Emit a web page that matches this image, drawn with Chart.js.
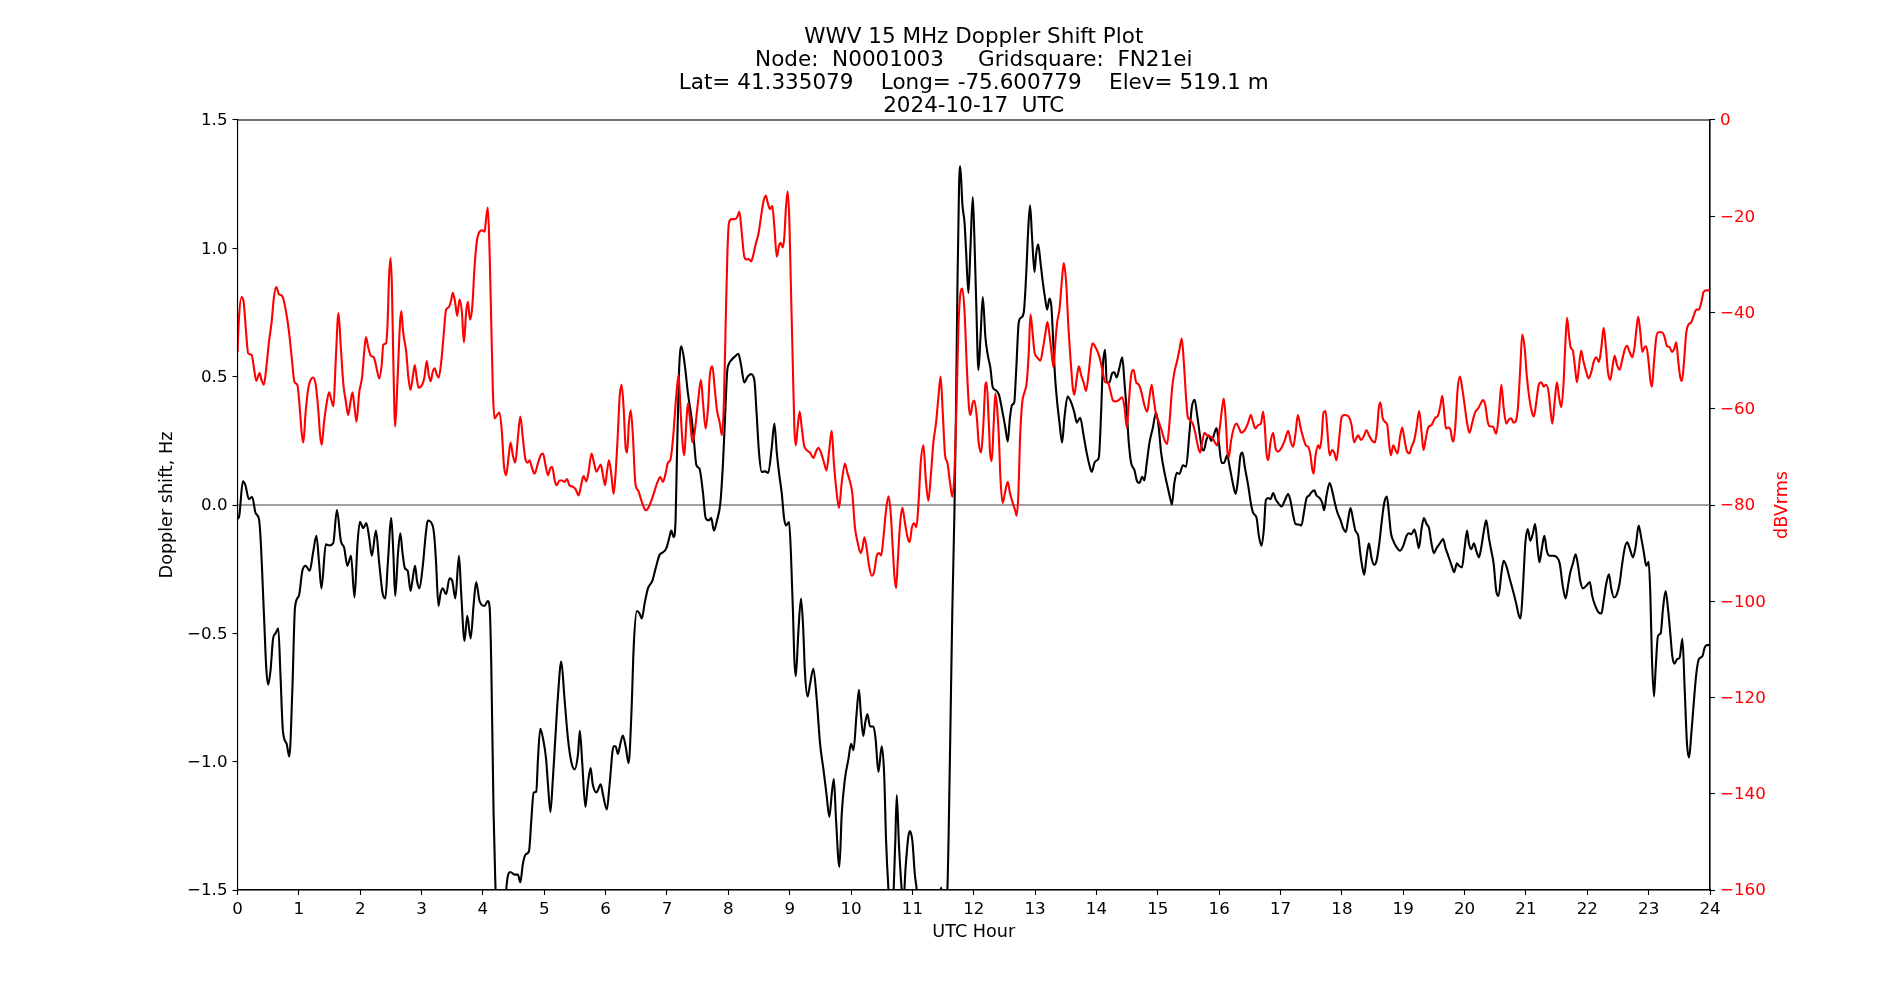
<!DOCTYPE html>
<html>
<head>
<meta charset="utf-8">
<script src="https://cdn.jsdelivr.net/npm/chart.js@4.4.1/dist/chart.umd.min.js"></script>
<style>
  html, body { margin: 0; padding: 0; background: #ffffff; }
  #wrap { width: 1900px; height: 1000px; }
  canvas { display: block; }
</style>
</head>
<body>
<div id="wrap"><canvas id="c" width="1900" height="1000"></canvas></div>
<script>
// ---------- data ----------
const titleLines = [
  "WWV 15 MHz Doppler Shift Plot",
  "Node:  N0001003     Gridsquare:  FN21ei",
  "Lat= 41.335079    Long= -75.600779    Elev= 519.1 m",
  "2024-10-17  UTC"
];
const hourTicks = [0,1,2,3,4,5,6,7,8,9,10,11,12,13,14,15,16,17,18,19,20,21,22,23,24];
const dopplerTicks = [-1.5,-1.0,-0.5,0.0,0.5,1.0,1.5];
const powerTicks = [-160,-140,-120,-100,-80,-60,-40,-20,0];

const dopplerHours = [
0.00,0.03,0.087,0.13,0.185,0.24,0.294,0.35,0.376,0.43,0.47,0.50,0.54,0.58,0.62,0.665,0.70,0.74,0.80,0.845,
0.894,0.937,1.00,1.057,1.11,1.177,1.23,1.286,1.33,1.368,1.44,1.493,1.56,1.62,1.684,1.74,1.79,1.85,1.907,1.956,
1.995,2.05,2.10,2.147,2.19,2.256,2.31,2.365,2.41,2.45,2.507,2.54,2.57,2.616,2.654,2.69,2.73,2.774,2.82,2.856,
2.894,2.926,2.965,3.02,3.07,3.10,3.18,3.21,3.237,3.275,3.31,3.346,3.40,3.455,3.50,3.55,3.61,3.646,3.70,3.744,
3.80,3.85,3.89,3.945,4.027,4.08,4.11,4.136,4.174,4.206,4.25,4.32,4.38,4.446,4.516,4.57,4.61,4.65,4.70,4.75,
4.79,4.826,4.87,4.897,4.935,4.98,5.03,5.06,5.10,5.14,5.18,5.22,5.277,5.33,5.386,5.44,5.495,5.55,5.58,5.62,
5.67,5.71,5.755,5.79,5.85,5.92,5.956,6.02,6.065,6.13,6.163,6.2,6.24,6.28,6.326,6.375,6.42,6.46,6.51,6.554,
6.59,6.636,6.69,6.76,6.815,6.88,6.935,6.99,7.04,7.07,7.11,7.14,7.16,7.196,7.234,7.29,7.34,7.40,7.435,7.48,
7.53,7.587,7.63,7.685,7.72,7.766,7.815,7.87,7.913,7.95,7.98,8.01,8.054,8.11,8.163,8.207,8.26,8.315,8.37,8.424,
8.46,8.50,8.543,8.60,8.65,8.707,8.75,8.79,8.826,8.87,8.908,8.94,8.99,9.02,9.054,9.076,9.10,9.14,9.185,9.22,
9.25,9.293,9.33,9.386,9.44,9.495,9.55,9.60,9.647,9.685,9.72,9.755,9.81,9.848,9.90,9.957,10.0,10.04,10.09,10.13,
10.16,10.2,10.23,10.266,10.31,10.364,10.4,10.446,10.5,10.54,10.57,10.61,10.66,10.72,10.745,10.78,10.826,10.85,10.89,10.935,
10.96,11.0,11.04,11.07,11.15,11.30,11.42,11.47,11.52,11.57,11.61,11.65,11.685,11.71,11.734,11.76,11.78,11.815,11.85,11.875,
11.913,11.946,11.984,12.01,12.04,12.076,12.11,12.147,12.19,12.228,12.27,12.31,12.353,12.41,12.47,12.516,12.554,12.59,12.625,12.66,
12.69,12.734,12.77,12.815,12.853,12.89,12.918,12.95,12.99,13.016,13.05,13.087,13.125,13.16,13.196,13.234,13.266,13.3,13.326,13.36,
13.397,13.44,13.478,13.53,13.587,13.64,13.68,13.734,13.79,13.84,13.886,13.924,13.967,14.005,14.038,14.076,14.103,14.14,14.168,14.21,
14.255,14.29,14.33,14.375,14.42,14.457,14.495,14.527,14.565,14.62,14.657,14.70,14.745,14.78,14.82,14.864,14.918,14.973,15.016,15.054,
15.11,15.163,15.21,15.23,15.27,15.31,15.353,15.41,15.46,15.516,15.554,15.6,15.636,15.68,15.717,15.75,15.79,15.83,15.87,15.9,
15.957,15.995,16.04,16.08,16.13,16.174,16.23,16.27,16.31,16.348,16.38,16.42,16.473,16.516,16.554,16.61,16.647,16.69,16.73,16.76,
16.8,16.837,16.88,16.92,16.96,17.016,17.07,17.125,17.17,17.207,17.245,17.3,17.34,17.38,17.424,17.467,17.505,17.55,17.587,17.64,
17.68,17.71,17.75,17.8,17.84,17.886,17.93,17.98,18.02,18.065,18.1,18.14,18.185,18.22,18.266,18.3,18.33,18.364,18.4,18.44,
18.484,18.527,18.565,18.61,18.647,18.69,18.734,18.766,18.8,18.837,18.89,18.946,19.0,19.054,19.09,19.136,19.18,19.217,19.255,19.3,
19.337,19.38,19.42,19.46,19.5,19.543,19.6,19.65,19.69,19.734,19.79,19.83,19.875,19.908,19.957,20.0,20.04,20.07,20.11,20.152,
20.19,20.234,20.27,20.315,20.353,20.397,20.435,20.473,20.516,20.554,20.6,20.636,20.68,20.734,20.79,20.84,20.886,20.913,20.95,20.99,
21.03,21.07,21.114,21.15,21.19,21.22,21.26,21.3,21.34,21.386,21.44,21.495,21.55,21.6,21.647,21.685,21.72,21.766,21.81,21.85,
21.886,21.93,21.984,22.04,22.08,22.13,22.185,22.23,22.266,22.31,22.353,22.39,22.435,22.47,22.527,22.57,22.61,22.65,22.69,22.745,
22.79,22.837,22.88,22.924,22.96,23.0,23.027,23.054,23.087,23.114,23.152,23.196,23.234,23.277,23.315,23.353,23.386,23.42,23.467,23.505,
23.55,23.587,23.625,23.658,23.696,23.734,23.777,23.82,23.875,23.913,23.95,24.0
];
const dopplerHz = [
-0.055,-0.04,0.092,0.076,0.023,0.031,-0.031,-0.055,-0.13,-0.42,-0.64,-0.70,-0.64,-0.52,-0.50,-0.48,-0.66,-0.88,-0.93,-0.98,
-0.72,-0.40,-0.354,-0.256,-0.237,-0.256,-0.188,-0.12,-0.227,-0.325,-0.153,-0.158,-0.149,-0.02,-0.139,-0.168,-0.237,-0.198,-0.36,-0.149,
-0.065,-0.09,-0.07,-0.129,-0.198,-0.10,-0.227,-0.344,-0.364,-0.227,-0.051,-0.188,-0.354,-0.188,-0.11,-0.188,-0.247,-0.256,-0.335,-0.286,
-0.237,-0.296,-0.325,-0.237,-0.11,-0.061,-0.08,-0.129,-0.227,-0.393,-0.344,-0.325,-0.348,-0.286,-0.296,-0.364,-0.198,-0.344,-0.53,-0.432,
-0.52,-0.384,-0.30,-0.374,-0.393,-0.374,-0.40,-0.62,-1.2,-1.5,-1.85,-1.85,-1.5,-1.43,-1.44,-1.44,-1.47,-1.40,-1.36,-1.35,
-1.225,-1.12,-1.117,-0.99,-0.872,-0.91,-0.99,-1.088,-1.196,-1.068,-0.91,-0.755,-0.61,-0.755,-0.91,-1.0,-1.03,-0.97,-0.88,-1.01,
-1.176,-1.088,-1.025,-1.088,-1.12,-1.088,-1.127,-1.186,-1.088,-0.94,-0.94,-0.97,-0.93,-0.898,-0.94,-1.006,-0.814,-0.54,-0.413,-0.423,
-0.442,-0.383,-0.325,-0.296,-0.247,-0.194,-0.184,-0.168,-0.125,-0.10,-0.125,-0.06,0.164,0.517,0.618,0.546,0.438,0.34,0.262,0.155,
0.141,0.047,-0.05,-0.06,-0.05,-0.10,-0.06,0.008,0.164,0.36,0.517,0.55,0.566,0.579,0.589,0.546,0.477,0.50,0.51,0.487,
0.36,0.204,0.129,0.131,0.125,0.223,0.317,0.204,0.125,0.047,-0.05,-0.08,-0.066,-0.188,-0.42,-0.60,-0.667,-0.50,-0.364,-0.48,
-0.657,-0.746,-0.70,-0.638,-0.755,-0.93,-1.03,-1.127,-1.215,-1.127,-1.068,-1.225,-1.41,-1.205,-1.068,-0.99,-0.93,-0.955,-0.814,-0.72,
-0.814,-0.90,-0.85,-0.814,-0.863,-0.863,-0.91,-1.04,-0.94,-1.05,-1.30,-1.5,-1.65,-1.32,-1.13,-1.32,-1.5,-1.56,-1.41,-1.29,
-1.27,-1.31,-1.44,-1.5,-1.85,-1.8,-1.56,-1.49,-1.6,-1.5,-1.01,-0.42,-0.03,0.36,0.85,1.24,1.32,1.17,1.10,0.99,
0.826,1.0,1.20,1.045,0.79,0.526,0.654,0.81,0.654,0.585,0.536,0.458,0.448,0.43,0.36,0.30,0.247,0.34,0.39,0.40,
0.517,0.712,0.73,0.75,0.89,1.084,1.168,1.045,0.908,0.977,1.016,0.947,0.869,0.81,0.761,0.804,0.771,0.614,0.497,0.40,
0.321,0.243,0.34,0.423,0.40,0.36,0.321,0.34,0.272,0.204,0.155,0.129,0.164,0.174,0.184,0.36,0.536,0.605,0.477,0.477,
0.513,0.517,0.497,0.536,0.575,0.477,0.36,0.243,0.164,0.135,0.096,0.086,0.11,0.096,0.164,0.243,0.30,0.36,0.30,0.204,
0.125,0.067,0.018,0.002,0.086,0.125,0.121,0.155,0.149,0.282,0.38,0.41,0.36,0.282,0.223,0.213,0.252,0.272,0.25,0.262,
0.30,0.243,0.164,0.164,0.194,0.145,0.076,0.043,0.106,0.194,0.204,0.145,0.076,0.008,-0.031,-0.051,-0.12,-0.159,-0.09,0.018,
0.027,0.023,0.047,0.023,0.008,-0.006,0.018,0.043,0.008,-0.041,-0.074,-0.076,-0.08,-0.031,0.027,0.037,0.05,0.057,0.037,0.027,
0.008,-0.02,0.037,0.086,0.057,0.008,-0.031,-0.06,-0.09,-0.105,-0.06,-0.012,-0.06,-0.10,-0.12,-0.188,-0.237,-0.272,-0.207,-0.149,
-0.207,-0.233,-0.217,-0.149,-0.07,0.008,0.033,-0.031,-0.11,-0.139,-0.164,-0.178,-0.159,-0.12,-0.11,-0.114,-0.096,-0.125,-0.168,-0.09,
-0.051,-0.074,-0.09,-0.149,-0.188,-0.168,-0.149,-0.133,-0.168,-0.198,-0.237,-0.262,-0.227,-0.237,-0.243,-0.168,-0.10,-0.149,-0.172,-0.149,
-0.178,-0.204,-0.168,-0.10,-0.06,-0.129,-0.178,-0.227,-0.335,-0.354,-0.266,-0.217,-0.237,-0.286,-0.335,-0.383,-0.432,-0.442,-0.325,-0.149,
-0.094,-0.139,-0.11,-0.074,-0.168,-0.223,-0.168,-0.12,-0.178,-0.198,-0.198,-0.202,-0.227,-0.315,-0.364,-0.315,-0.266,-0.227,-0.192,-0.237,
-0.296,-0.325,-0.315,-0.30,-0.354,-0.393,-0.419,-0.423,-0.374,-0.305,-0.27,-0.325,-0.36,-0.354,-0.305,-0.227,-0.168,-0.145,-0.168,-0.204,
-0.159,-0.08,-0.129,-0.188,-0.237,-0.221,-0.344,-0.60,-0.746,-0.638,-0.51,-0.50,-0.403,-0.335,-0.403,-0.50,-0.59,-0.618,-0.60,-0.595,
-0.52,-0.716,-0.93,-0.984,-0.89,-0.775,-0.657,-0.60,-0.59,-0.556,-0.546,-0.546
];

const powerHours = [
0,0.02,0.065,0.10,0.14,0.174,0.23,0.267,0.305,0.36,0.39,0.43,0.47,0.512,0.556,0.594,0.632,0.676,0.73,0.785,
0.84,0.883,0.93,0.975,1.014,1.046,1.074,1.11,1.155,1.193,1.23,1.275,1.32,1.346,1.373,1.41,1.455,1.493,1.53,1.564,
1.6,1.646,1.684,1.726,1.766,1.804,1.84,1.875,1.907,1.94,1.984,2.03,2.065,2.093,2.13,2.174,2.22,2.256,2.31,2.35,
2.376,2.42,2.447,2.47,2.496,2.517,2.54,2.57,2.61,2.65,2.67,2.70,2.75,2.785,2.82,2.856,2.89,2.92,2.95,3.01,
3.046,3.085,3.117,3.15,3.18,3.215,3.25,3.28,3.32,3.357,3.4,3.444,3.48,3.51,3.55,3.58,3.62,3.657,3.69,3.727,
3.755,3.79,3.826,3.864,3.9,3.946,3.99,4.027,4.054,4.08,4.11,4.136,4.163,4.19,4.23,4.27,4.31,4.342,4.38,4.42,
4.45,4.49,4.527,4.57,4.61,4.65,4.696,4.734,4.76,4.8,4.84,4.9,4.94,4.98,5.02,5.06,5.1,5.13,5.17,5.2,
5.25,5.29,5.33,5.37,5.41,5.467,5.51,5.56,5.6,5.64,5.685,5.72,5.77,5.81,5.85,5.886,5.92,5.957,5.99,6.02,
6.054,6.09,6.13,6.163,6.2,6.228,6.26,6.293,6.326,6.35,6.38,6.41,6.446,6.484,6.53,6.565,6.61,6.65,6.696,6.745,
6.8,6.84,6.89,6.935,6.98,7.016,7.054,7.1,7.136,7.163,7.19,7.223,7.26,7.283,7.315,7.34,7.38,7.413,7.45,7.505,
7.554,7.587,7.63,7.67,7.696,7.74,7.777,7.815,7.86,7.896,7.93,7.957,7.984,8.01,8.054,8.11,8.147,8.18,8.217,8.26,
8.3,8.337,8.37,8.41,8.446,8.49,8.533,8.57,8.61,8.64,8.68,8.717,8.75,8.79,8.826,8.853,8.886,8.913,8.94,8.967,
8.995,9.02,9.05,9.076,9.1,9.13,9.163,9.196,9.234,9.277,9.33,9.386,9.43,9.467,9.51,9.56,9.6,9.64,9.685,9.72,
9.766,9.804,9.848,9.9,9.94,9.984,10.02,10.065,10.11,10.157,10.185,10.217,10.255,10.293,10.337,10.38,10.42,10.457,10.49,10.527,
10.565,10.61,10.647,10.68,10.707,10.734,10.76,10.8,10.837,10.88,10.924,10.957,10.99,11.027,11.065,11.1,11.136,11.18,11.217,11.26,
11.304,11.342,11.386,11.424,11.46,11.495,11.533,11.57,11.614,11.65,11.685,11.72,11.75,11.79,11.815,11.85,11.886,11.924,11.946,11.984,
12.01,12.05,12.08,12.12,12.158,12.19,12.21,12.245,12.266,12.293,12.326,12.353,12.38,12.41,12.435,12.47,12.516,12.554,12.59,12.636,
12.674,12.7,12.728,12.755,12.79,12.826,12.864,12.897,12.924,12.95,12.99,13.033,13.087,13.125,13.17,13.2,13.234,13.266,13.3,13.33,
13.36,13.397,13.435,13.467,13.505,13.543,13.587,13.614,13.64,13.68,13.712,13.75,13.79,13.83,13.875,13.913,13.94,13.984,14.02,14.06,
14.103,14.14,14.185,14.223,14.266,14.31,14.364,14.42,14.457,14.495,14.527,14.565,14.603,14.647,14.69,14.734,14.78,14.826,14.864,14.9,
14.935,14.973,15.016,15.06,15.11,15.152,15.19,15.234,15.27,15.31,15.353,15.39,15.424,15.46,15.49,15.527,15.57,15.61,15.65,15.69,
15.723,15.76,15.8,15.85,15.886,15.93,15.967,16.01,16.05,16.076,16.11,16.136,16.158,16.19,16.23,16.283,16.32,16.364,16.42,16.473,
16.516,16.554,16.59,16.636,16.68,16.717,16.745,16.77,16.8,16.837,16.88,16.918,16.96,17.016,17.07,17.125,17.17,17.207,17.245,17.283,
17.326,17.37,17.413,17.45,17.49,17.516,17.54,17.57,17.614,17.64,17.67,17.7,17.734,17.766,17.8,17.84,17.875,17.913,17.957,17.995,
18.04,18.1,18.158,18.2,18.24,18.266,18.31,18.364,18.4,18.44,18.484,18.54,18.576,18.603,18.63,18.663,18.7,18.74,18.772,18.8,
18.837,18.875,18.907,18.946,18.984,19.016,19.054,19.1,19.136,19.18,19.217,19.26,19.3,19.33,19.364,19.407,19.46,19.516,19.57,19.608,
19.636,19.668,19.696,19.734,19.77,19.8,19.82,19.853,19.886,19.924,19.96,20.0,20.04,20.08,20.125,20.17,20.217,20.26,20.3,20.337,
20.38,20.424,20.46,20.516,20.56,20.6,20.636,20.68,20.72,20.76,20.8,20.83,20.87,20.908,20.94,20.978,21.016,21.06,21.1,21.13,
21.168,21.21,21.25,21.29,21.33,21.37,21.4,21.43,21.467,21.505,21.54,21.576,21.614,21.636,21.67,21.7,21.728,21.766,21.8,21.83,
21.864,21.9,21.94,21.984,22.02,22.065,22.103,22.147,22.19,22.23,22.266,22.3,22.337,22.375,22.41,22.446,22.484,22.527,22.57,22.61,
22.647,22.69,22.734,22.77,22.8,22.83,22.864,22.897,22.935,22.96,23.0,23.027,23.054,23.087,23.125,23.163,23.217,23.26,23.3,23.342,
23.38,23.413,23.45,23.484,23.516,23.543,23.576,23.614,23.65,23.696,23.734,23.777,23.82,23.86,23.897,23.94,24.0
];
const powerDb = [
-48.25,-42,-36.8,-37.8,-44.1,-48.5,-48.8,-51.4,-54.2,-52.6,-54,-55,-51.4,-46.2,-42,-36.8,-34.7,-36.2,-36.6,-39.4,
-44.1,-49.3,-54.5,-55,-59.7,-65,-67,-60.8,-55.6,-54,-53.5,-55,-60.8,-65.5,-67.5,-62.9,-58.7,-56.6,-58.2,-59.5,
-50.3,-40.1,-47.2,-55,-58.5,-61.3,-58.7,-56.6,-59.7,-62.7,-56.6,-53.5,-48.2,-45.1,-47.2,-49,-49.3,-50.9,-53.7,-50.9,
-46.7,-46.4,-42,-32.6,-28.7,-34.7,-50.3,-63.7,-53.5,-42,-39.7,-44.1,-48.2,-53.5,-56.1,-53.5,-50.9,-53.5,-55.6,-55,
-53.5,-50.1,-53,-54.3,-52.4,-51.6,-53,-53.5,-50.3,-45.1,-39.4,-38.9,-37.6,-35.9,-38.1,-40.7,-37.3,-39.9,-46.2,-39.9,
-37.8,-41.5,-38.9,-30.5,-25.3,-23.2,-22.9,-23.2,-20.3,-18.2,-28,-42,-56.6,-62,-61.3,-60.8,-65,-71.7,-73.8,-69.8,
-67,-69.8,-71.2,-66,-61.6,-66,-70.7,-71.2,-70.7,-72.3,-73.5,-71.2,-69.7,-69.3,-71.7,-73.8,-72.3,-72.1,-74.9,-75.9,
-74.9,-74.9,-75.2,-74.6,-75.9,-76.2,-76.7,-78,-75.9,-74,-75.1,-73.3,-69.3,-71.2,-73.1,-72.3,-71.6,-73.8,-75.9,-73.3,
-70.7,-73.3,-77.7,-73.3,-65,-57.6,-55,-59.7,-68.1,-69.1,-62.9,-60.3,-66,-75.4,-77,-78.3,-80.1,-81.1,-80.6,-79.1,
-77,-75.4,-74.2,-75.2,-73.3,-71.2,-70.7,-66,-59.7,-55.6,-53,-60.8,-68.1,-69.7,-62.9,-58.9,-62.9,-67,-65,-58.7,
-54,-58.7,-64.1,-59.7,-53.5,-51.2,-55.6,-60.3,-62.9,-65.5,-57.6,-42,-28,-21.4,-20.6,-20.6,-20.1,-19,-23.2,-28.4,
-29,-28.9,-29.4,-27.9,-25.8,-23.7,-20.1,-17.1,-15.7,-17.1,-18.5,-17.9,-22.1,-28.4,-26.1,-25.5,-26.5,-24.2,-18,-14.8,
-21.1,-34.7,-50.3,-63.9,-67.6,-63.9,-60.6,-63.9,-67.6,-68.6,-69.1,-70.2,-68.9,-68.1,-69.1,-71.2,-72.8,-69.1,-64.6,-71.2,
-77.5,-80.6,-75.4,-71.4,-73.3,-75.2,-77.5,-84.8,-87.9,-90,-89,-86.7,-89,-92.6,-94.7,-93.7,-90.5,-90,-90.5,-86.9,
-81.7,-78.2,-81.7,-89,-94.7,-97.3,-92.1,-83.8,-80.6,-83.8,-86.9,-87.7,-84.8,-83.8,-84.6,-79.6,-71.2,-67.6,-74.4,-79.1,
-73.3,-67,-62.9,-57.6,-53.3,-60.8,-69.7,-71.2,-75.4,-78.3,-73.3,-58.7,-43,-35.5,-35,-39.9,-51,-60,-61.3,-58.7,
-58.3,-61.8,-67,-69.1,-62.9,-55,-54.5,-62.9,-69.1,-70.9,-62.9,-56.8,-59.7,-66,-74.4,-79.6,-77,-75.2,-77.5,-79.6,
-81.1,-82.2,-77.5,-66,-58.7,-56.6,-54.5,-48.2,-40.4,-43,-48.2,-49.3,-50,-47.7,-44.1,-42,-44.6,-48.2,-51.4,-46.2,
-42,-39.4,-33.6,-29.7,-33.6,-43,-51.4,-55.6,-57.1,-53.5,-51.2,-53,-54.5,-56.3,-52.4,-47.7,-46.4,-47.2,-48.2,-49.8,
-52.4,-54.5,-54.5,-56.1,-58.2,-58.5,-58.2,-57.6,-59.7,-63.9,-58.7,-53,-51.9,-54.5,-55,-56.6,-59.2,-60.6,-57.6,-55,
-58.2,-61.3,-62.7,-64.4,-66.5,-67.3,-62.9,-55.6,-52.4,-50.3,-47.7,-45.4,-50.3,-57.6,-61.8,-62.3,-63.1,-65,-67.6,-69.1,
-67,-65,-65.5,-65.8,-66,-67,-67.6,-63.9,-59.7,-57.9,-62.9,-69.1,-70,-67,-64.4,-63.1,-63.9,-65,-64.4,-62.9,
-61.3,-62.9,-64.1,-63.4,-63.1,-60.6,-63.9,-69.1,-70.7,-67,-65,-68.1,-68.9,-68.1,-66.5,-64.6,-67,-67.9,-65,-61.3,
-63.9,-66,-67.6,-67.9,-69.8,-72.5,-73.5,-69.8,-67.6,-68.3,-66,-60.8,-60.5,-65,-69.7,-68.6,-69.1,-70.7,-66,-61.8,
-61.3,-61.5,-63.4,-67,-66,-65.5,-66.5,-65.5,-64.4,-65.5,-66.5,-67,-63.9,-59.7,-58.7,-61.8,-62.7,-63.4,-67.6,-69.7,
-67.6,-68.6,-69.3,-66,-63.9,-66,-68.6,-69.3,-67.9,-66.5,-63.9,-60.5,-65,-68.6,-66.5,-63.9,-63.4,-62,-61.3,-59.2,
-57.3,-60.8,-64.1,-63.9,-64.4,-66.5,-66.8,-62.9,-56,-53.3,-55.6,-59.2,-62.9,-65,-62.9,-60.8,-60,-59,-58.2,-59.2,
-62.9,-63.7,-63.7,-65.2,-60.8,-55,-59.7,-63.1,-62.3,-62,-62.9,-62.7,-59.7,-51.4,-44.6,-47.2,-53.5,-58.2,-60.8,-61.6,
-58.7,-55,-54.5,-55.4,-55,-56.6,-60.3,-63.1,-58.7,-54.5,-57.6,-59.7,-54.5,-48.2,-41.1,-44.6,-47.2,-48,-51.4,-54.5,
-51.4,-47.9,-50.3,-52.4,-53.7,-52.4,-50.3,-49.3,-50.3,-47.2,-43.2,-46.7,-52.4,-54,-51.4,-49,-50.9,-51.9,-49.8,-47.7,
-46.9,-48.2,-49.3,-47.2,-43.5,-40.9,-44.1,-48.2,-47.2,-47,-50.3,-54,-55.4,-50.3,-45.1,-44.1,-44.1,-45.1,-47,-47.2,
-48.2,-47.7,-46.2,-50.3,-53.5,-54.2,-50.3,-44.1,-42.5,-42,-40.7,-39.4,-39.4,-37.8,-35.7,-35.4,-35.4
];

// ---------- chart ----------
const FONT = "'DejaVu Sans', sans-serif";
Chart.defaults.font.family = FONT;
Chart.defaults.color = '#000000';

const PLOT_LEFT = 237.5, PLOT_RIGHT = 1710, PLOT_TOP = 120, PLOT_BOTTOM = 890;

const toPts = (xs, ys) => xs.map((x, i) => ({ x: x, y: ys[i] }));
const minusFmt = (v, d) => (v < 0 ? '\u2212' : '') + Math.abs(v).toFixed(d);

const framePlugin = {
  id: 'frame',
  afterDatasetsDraw(chart) {
    const { ctx, chartArea: a } = chart;
    ctx.save();
    ctx.strokeStyle = '#000000';
    ctx.lineWidth = 1.1;
    ctx.strokeRect(a.left, a.top, a.right - a.left, a.bottom - a.top);
    ctx.restore();
  },
  afterDraw(chart) {
    const { ctx } = chart;
    ctx.save();
    ctx.translate(1782.5, 505);
    ctx.rotate(-Math.PI / 2);
    ctx.fillStyle = '#ff0000';
    ctx.font = "17.6px " + FONT;
    ctx.textAlign = 'center';
    ctx.textBaseline = 'middle';
    ctx.fillText('dBVrms', 0, 0);
    ctx.restore();
  }
};

new Chart(document.getElementById('c'), {
  type: 'line',
  data: {
    datasets: [
      {
        label: 'dBVrms',
        data: toPts(powerHours, powerDb),
        yAxisID: 'yPower',
        borderColor: '#ff0000',
        borderWidth: 2.1,
        pointRadius: 0,
        cubicInterpolationMode: 'monotone',
        borderJoinStyle: 'round',
        order: 0,
        clip: 0
      },
      {
        label: 'Doppler shift',
        data: toPts(dopplerHours, dopplerHz),
        yAxisID: 'yDoppler',
        borderColor: '#000000',
        borderWidth: 2.1,
        pointRadius: 0,
        cubicInterpolationMode: 'monotone',
        borderJoinStyle: 'round',
        order: 1,
        clip: 0
      },
      {
        label: 'zero',
        data: [{ x: 0, y: 0 }, { x: 24, y: 0 }],
        yAxisID: 'yDoppler',
        borderColor: '#808080',
        borderWidth: 1.3,
        pointRadius: 0,
        order: 2,
        clip: 0
      }
    ]
  },
  options: {
    responsive: false,
    animation: false,
    devicePixelRatio: 1,
    layout: { padding: 0 },
    plugins: {
      legend: { display: false },
      tooltip: { enabled: false },
      title: {
        display: true,
        fullSize: false,
        text: titleLines,
        color: '#000000',
        font: { size: 21.5, weight: 'normal', family: FONT, lineHeight: 23 / 21.5 },
        padding: { top: 25.5, bottom: 2.5 }
      }
    },
    scales: {
      x: {
        type: 'linear',
        position: 'bottom',
        min: 0,
        max: 24,
        afterFit(s) { s.height = 1000 - PLOT_BOTTOM; },
        afterBuildTicks(s) { s.ticks = hourTicks.map(v => ({ value: v })); },
        ticks: {
          autoSkip: false, maxRotation: 0, minRotation: 0, padding: 5,
          color: '#000000', font: { size: 16.7 },
          callback: v => String(v)
        },
        grid: { drawOnChartArea: false, drawTicks: true, tickLength: 5, tickWidth: 1.1, tickColor: '#000000' },
        border: { display: true, color: '#000000', width: 1.1 },
        title: {
          display: true, text: 'UTC Hour', color: '#000000',
          font: { size: 17.6 }, padding: { top: 0, bottom: 57.5 }
        }
      },
      yDoppler: {
        type: 'linear',
        position: 'left',
        min: -1.5,
        max: 1.5,
        afterFit(s) { s.width = PLOT_LEFT; },
        afterBuildTicks(s) { s.ticks = dopplerTicks.map(v => ({ value: v })); },
        ticks: {
          padding: 5, labelOffset: 1, color: '#000000', font: { size: 16.7 },
          callback: v => minusFmt(v, 1)
        },
        grid: { drawOnChartArea: false, drawTicks: true, tickLength: 5, tickWidth: 1.1, tickColor: '#000000' },
        border: { display: true, color: '#000000', width: 1.1 },
        title: {
          display: true, text: 'Doppler shift, Hz', color: '#000000',
          font: { size: 17.6 }, padding: { top: 156.5, bottom: 0 }
        }
      },
      yPower: {
        type: 'linear',
        position: 'right',
        min: -160,
        max: 0,
        afterFit(s) { s.width = 1900 - PLOT_RIGHT; },
        afterBuildTicks(s) { s.ticks = powerTicks.map(v => ({ value: v })); },
        ticks: {
          padding: 5, labelOffset: 1, color: '#ff0000', font: { size: 16.7 },
          callback: v => minusFmt(v, 0)
        },
        grid: { drawOnChartArea: false, drawTicks: true, tickLength: 5, tickWidth: 1.1, tickColor: '#000000' },
        border: { display: true, color: '#000000', width: 1.1 }
      }
    }
  },
  plugins: [framePlugin]
});
</script>
</body>
</html>
